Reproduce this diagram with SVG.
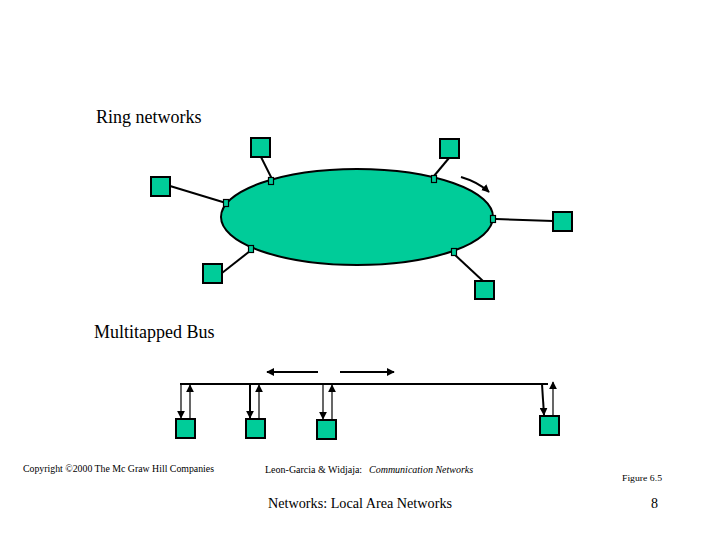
<svg xmlns="http://www.w3.org/2000/svg" width="720" height="540" viewBox="0 0 720 540">
<defs>
<style>
.st{fill:#00CC99;stroke:#000;stroke-width:2}
.tap{fill:#00CC99;stroke:#000;stroke-width:1.2}
.ln{stroke:#000;stroke-width:2;fill:none}
.thin{stroke:#000;stroke-width:1.2;fill:none}
.t{font-family:"Liberation Serif","Times New Roman",serif;fill:#000}
</style>
<marker id="ah2" viewBox="0 0 10 10" refX="9" refY="5" markerWidth="8" markerHeight="8" orient="auto" markerUnits="userSpaceOnUse">
<path d="M0,0 L10,5 L0,10 z" fill="#000"/>
</marker>
</defs>
<rect width="720" height="540" fill="#fff"/>
<text class="t" x="96" y="123" font-size="18">Ring networks</text>
<text class="t" x="94" y="338" font-size="18">Multitapped Bus</text>
<g id="connectors">
<line class="ln" x1="170" y1="186" x2="226" y2="203"/>
<line class="ln" x1="261" y1="157" x2="272" y2="179"/>
<line class="ln" x1="449" y1="158" x2="434" y2="176"/>
<line class="ln" x1="496" y1="219" x2="553" y2="221"/>
<line class="ln" x1="454" y1="254" x2="483" y2="281"/>
<line class="ln" x1="250" y1="251" x2="222" y2="273"/>
<path class="ln" d="M461,177 Q478,182 489,192" marker-end="url(#ah2)"/>
<line class="ln" x1="180" y1="384" x2="548" y2="384" stroke-width="2.5"/>
<line class="ln" x1="318" y1="372" x2="267" y2="372" marker-end="url(#ah2)"/>
<line class="ln" x1="340" y1="372" x2="394" y2="372" marker-end="url(#ah2)"/>
<line class="thin" x1="181" y1="384" x2="181" y2="418" marker-end="url(#ah2)"/>
<line class="thin" x1="190" y1="418" x2="190" y2="385" marker-end="url(#ah2)"/>
<line class="ln" x1="250" y1="384" x2="250" y2="418" marker-end="url(#ah2)"/>
<line class="thin" x1="259" y1="418" x2="259" y2="385" marker-end="url(#ah2)"/>
<line class="thin" x1="323" y1="384" x2="323" y2="419" marker-end="url(#ah2)"/>
<line class="thin" x1="332" y1="419" x2="332" y2="385" marker-end="url(#ah2)"/>
<line class="ln" x1="542" y1="384" x2="544" y2="415" marker-end="url(#ah2)"/>
<line class="thin" x1="553" y1="415" x2="553" y2="382" marker-end="url(#ah2)"/>
</g>
<g id="ring"><ellipse cx="357" cy="217" rx="136" ry="48" fill="#00CC99" stroke="#000" stroke-width="2"/></g>
<g id="taps">
<rect class="tap" x="268.5" y="177.5" width="5" height="7"/>
<rect class="tap" x="223.5" y="199.5" width="5" height="7"/>
<rect class="tap" x="248.5" y="245.5" width="5" height="7"/>
<rect class="tap" x="431.5" y="175.5" width="5" height="7"/>
<rect class="tap" x="490.5" y="215.5" width="5" height="7"/>
<rect class="tap" x="451.5" y="248.5" width="5" height="7"/>
</g>
<g id="ring-stations">
<rect id="s1" class="st" x="251" y="138" width="19" height="19"/>
<rect id="s2" class="st" x="151" y="177" width="19" height="19"/>
<rect id="s3" class="st" x="203" y="264" width="19" height="19"/>
<rect id="s4" class="st" x="440" y="139" width="19" height="19"/>
<rect id="s5" class="st" x="553" y="212" width="19" height="19"/>
<rect id="s6" class="st" x="475" y="281" width="19" height="18"/>
</g>
<g id="bus-stations">
<rect id="b1" class="st" x="176" y="419" width="19" height="19"/>
<rect id="b2" class="st" x="246" y="419" width="19" height="19"/>
<rect id="b3" class="st" x="317" y="420" width="19" height="19"/>
<rect id="b4" class="st" x="540" y="416" width="19" height="19"/>
</g>
<text class="t" x="23" y="472" font-size="10" textLength="191" lengthAdjust="spacingAndGlyphs">Copyright ©2000 The Mc Graw Hill Companies</text>
<text class="t" x="265" y="473" font-size="10">Leon-Garcia &amp; Widjaja: <tspan font-style="italic" x="369">Communication Networks</tspan></text>
<text class="t" x="268" y="508" font-size="14" textLength="184" lengthAdjust="spacingAndGlyphs">Networks: Local Area Networks</text>
<text class="t" x="622" y="481" font-size="9" textLength="40" lengthAdjust="spacingAndGlyphs">Figure 6.5</text>
<text class="t" x="651" y="508" font-size="14">8</text>
</svg>
